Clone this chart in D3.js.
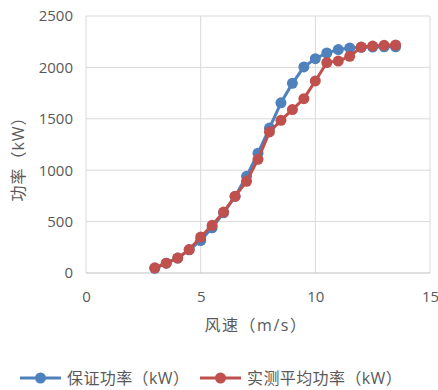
<!DOCTYPE html>
<html>
<head>
<meta charset="utf-8">
<script src="https://cdn.jsdelivr.net/npm/d3@7"></script>
<style>
  html, body { margin: 0; padding: 0; background: #fff; }
  svg text { font-family: "Open Sans", "Noto Sans CJK SC", sans-serif; fill: #595959; }
</style>
</head>
<body>
<svg id="chart" width="438" height="390"></svg>
<script>
// Wind speed (m/s)
const windSpeed = [3, 3.5, 4, 4.5, 5, 5.5, 6, 6.5, 7, 7.5, 8, 8.5, 9, 9.5, 10, 10.5, 11, 11.5, 12, 12.5, 13, 13.5];
// Guaranteed power curve (kW)
const guaranteedPower = [45, 95, 145, 225, 315, 440, 585, 745, 940, 1165, 1410, 1655, 1845, 2005, 2085, 2140, 2173, 2189, 2195, 2198, 2200, 2200];
// Measured average power (kW)
const measuredPower = [50, 95, 145, 228, 350, 464, 593, 746, 892, 1106, 1372, 1485, 1590, 1696, 1868, 2047, 2062, 2108, 2198, 2208, 2215, 2218];

const xTicks = [0, 5, 10, 15];
const yTicks = [0, 500, 1000, 1500, 2000, 2500];
const seriesNames = ["保证功率（kW）", "实测平均功率（kW）"];
const xTitle = "风速（m/s）";
const yTitle = "功率（kW）";

const colors = ["#4F81BD", "#C0504D"];
const svg = d3.select("#chart");

const plot = { left: 86, right: 430, top: 16, bottom: 273 };
const x = d3.scaleLinear().domain([0, 15]).range([plot.left, plot.right]);
const y = d3.scaleLinear().domain([0, 2500]).range([plot.bottom, plot.top]);

// Gridlines
const grid = svg.append("g");
grid.selectAll(".gx").data(xTicks).join("line")
  .attr("x1", d => x(d)).attr("x2", d => x(d))
  .attr("y1", plot.top).attr("y2", plot.bottom)
  .attr("stroke", "#d9d9d9").attr("stroke-width", 1);
grid.selectAll(".gy").data(yTicks).join("line")
  .attr("x1", plot.left).attr("x2", plot.right)
  .attr("y1", d => y(d)).attr("y2", d => y(d))
  .attr("stroke", d => d === 0 ? "#bfbfbf" : "#d9d9d9").attr("stroke-width", 1);

// Axes (labels only)
const xAxis = d3.axisBottom(x).tickValues(xTicks).tickFormat(d3.format("d")).tickSize(0).tickPadding(18);
svg.append("g").attr("transform", `translate(0,${plot.bottom})`).call(xAxis)
  .call(g => g.select(".domain").remove())
  .selectAll("text").attr("font-size", 15).style("fill", "#595959")
  .style("font-family", "'Open Sans', sans-serif");

const yAxis = d3.axisLeft(y).tickValues(yTicks).tickFormat(d3.format("d")).tickSize(0).tickPadding(13);
svg.append("g").attr("transform", `translate(${plot.left},0)`).call(yAxis)
  .call(g => g.select(".domain").remove())
  .selectAll("text").attr("font-size", 15).style("fill", "#595959")
  .style("font-family", "'Open Sans', sans-serif");

// Axis titles
svg.append("text").attr("x", 256).attr("y", 331)
  .attr("text-anchor", "middle").attr("font-size", 16).attr("letter-spacing", 1.5).text(xTitle);
svg.append("text").attr("transform", "translate(24,155) rotate(-90)")
  .attr("text-anchor", "middle").attr("font-size", 16).attr("letter-spacing", 1).text(yTitle);

// Series
const series = [guaranteedPower, measuredPower];
const line = d3.line().x((d, i) => x(windSpeed[i])).y(d => y(d));
series.forEach((vals, s) => {
  const g = svg.append("g");
  g.append("path").datum(vals).attr("d", line)
    .attr("fill", "none").attr("stroke", colors[s]).attr("stroke-width", 3)
    .attr("stroke-linejoin", "round");
  g.selectAll("circle").data(vals).join("circle")
    .attr("cx", (d, i) => x(windSpeed[i])).attr("cy", d => y(d))
    .attr("r", 5.5).attr("fill", colors[s]);
});

// Legend
const legendItems = [{ x: 20 }, { x: 200 }];
legendItems.forEach((it, s) => {
  const g = svg.append("g").attr("transform", `translate(${it.x},378)`);
  g.append("line").attr("x1", 0).attr("x2", 41).attr("y1", 0).attr("y2", 0)
    .attr("stroke", colors[s]).attr("stroke-width", 3);
  g.append("circle").attr("cx", 20.5).attr("cy", 0).attr("r", 5.5).attr("fill", colors[s]);
  g.append("text").attr("x", 47).attr("y", 6).attr("font-size", 16).attr("letter-spacing", 0.4).text(seriesNames[s]);
});
</script>
</body>
</html>
